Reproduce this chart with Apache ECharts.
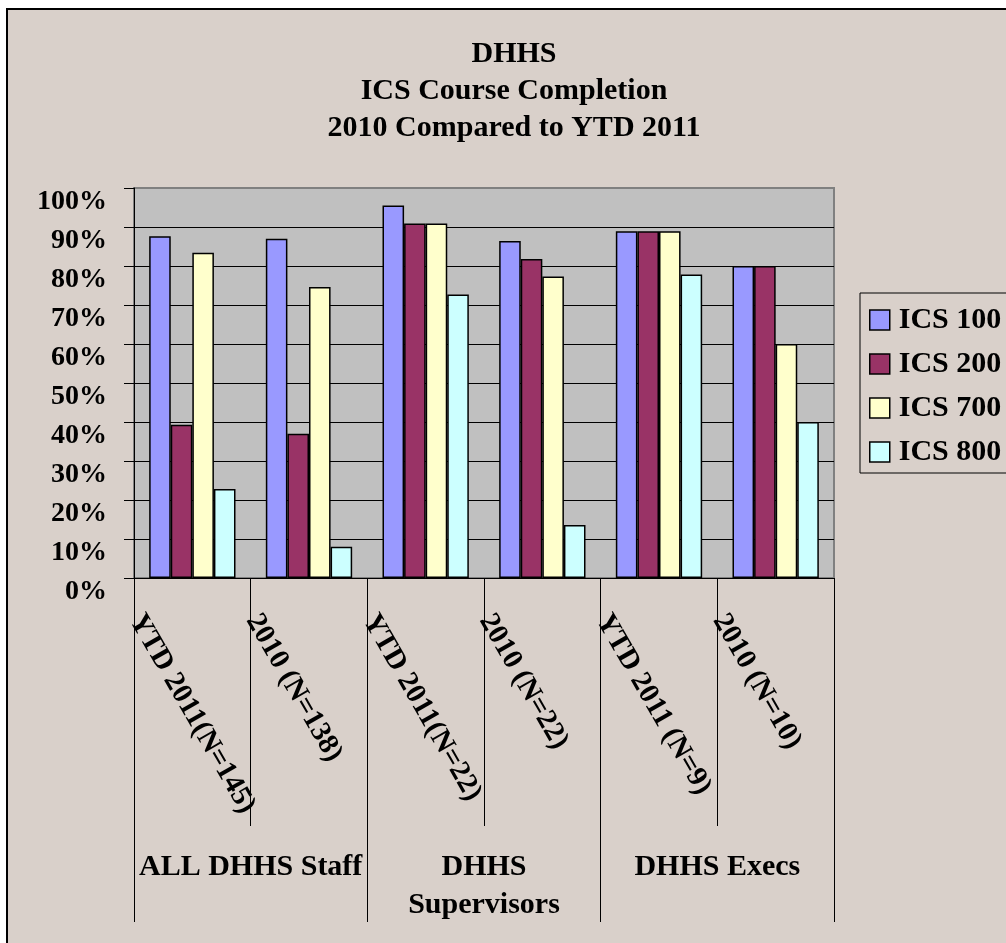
<!DOCTYPE html>
<html>
<head>
<meta charset="utf-8">
<script src="https://cdn.jsdelivr.net/npm/echarts@6/dist/echarts.min.js"></script>
<style>
html,body{margin:0;padding:0;background:#fff;}
#chart{width:1006px;height:943px;}
</style>
</head>
<body>
<div id="chart"></div>
<script>
var categories = ['YTD 2011(N=145)', '2010 (N=138)', 'YTD 2011(N=22)', '2010 (N=22)', 'YTD 2011 (N=9)', '2010 (N=10)'];
var groups = ['ALL DHHS Staff', 'DHHS\nSupervisors', 'DHHS Execs'];
var seriesNames = ['ICS 100', 'ICS 200', 'ICS 700', 'ICS 800'];
var ics100 = [87.6, 87.0, 95.5, 86.4, 88.9, 80];
var ics200 = [39.3, 37.0, 90.9, 81.8, 88.9, 80];
var ics700 = [83.4, 74.6, 90.9, 77.3, 88.9, 60];
var ics800 = [22.8, 8.0, 72.7, 13.6, 77.8, 40];
var yTicks = [0, 10, 20, 30, 40, 50, 60, 70, 80, 90, 100];

var FONT = '"Liberation Serif", "Times New Roman", serif';
var colors = ['#9999ff', '#993366', '#ffffcc', '#ccffff'];
var values = [ics100, ics200, ics700, ics800];

var chart = echarts.init(document.getElementById('chart'), null, {renderer: 'canvas'});

var splitColors = [];
for (var i = 0; i < yTicks.length; i++) splitColors.push(i === yTicks.length - 1 ? '#808080' : '#000000');

var option = {
  animation: false,
  backgroundColor: '#ffffff',
  graphic: [{
    type: 'rect', z: -100, silent: true,
    shape: {x: 7, y: 9, width: 1100, height: 1000},
    style: {fill: '#d9d0ca', stroke: '#000', lineWidth: 2}
  }],
  title: {
    text: 'DHHS\nICS Course Completion\n2010 Compared to YTD 2011',
    left: 514, top: 36, padding: 0,
    textAlign: 'center',
    textStyle: {fontFamily: FONT, fontWeight: 'bold', fontSize: 30, lineHeight: 37, color: '#000'}
  },
  legend: {
    orient: 'vertical',
    left: 860, top: 293,
    padding: [12, 10, 6, 9],
    icon: 'rect',
    itemWidth: 20, itemHeight: 20, itemGap: 14,
    borderColor: '#000', borderWidth: 1,
    backgroundColor: '#d9d0ca',
    data: seriesNames,
    itemStyle: {borderColor: '#000', borderWidth: 1.5},
    textStyle: {fontFamily: FONT, fontWeight: 'bold', fontSize: 30, color: '#000', padding: [0, 0, 0, 4]}
  },
  grid: {
    left: 134, top: 188, right: 172, bottom: 365,
    show: true, backgroundColor: '#c0c0c0', borderColor: '#808080', borderWidth: 2,
    outerBoundsMode: 'none', containLabel: false
  },
  xAxis: [{
    type: 'category',
    data: categories,
    position: 'bottom',
    axisLine: {show: true, lineStyle: {color: '#000', width: 1}},
    axisTick: {show: true, interval: 0, length: 248, alignWithLabel: false, lineStyle: {color: '#000', width: 1}},
    axisLabel: {
      interval: 0, rotate: -60, margin: 136,
      align: 'center', verticalAlign: 'middle',
      hideOverlap: false,
      formatter: function (v) { return '{a|' + v + '}'; },
      rich: {a: {width: 226, align: 'left', fontFamily: FONT, fontWeight: 'bold', fontSize: 29, color: '#000'}}
    },
    splitLine: {show: false}
  }, {
    type: 'category',
    data: groups,
    position: 'bottom',
    offset: 0,
    axisLine: {show: false},
    axisTick: {show: true, interval: 0, length: 344, alignWithLabel: false, lineStyle: {color: '#000', width: 1}},
    axisLabel: {
      interval: 0, margin: 270, verticalAlign: 'top',
      fontFamily: FONT, fontWeight: 'bold', fontSize: 30, lineHeight: 38, color: '#000'
    },
    splitLine: {show: false}
  }],
  yAxis: {
    type: 'value', min: 0, max: 100, interval: 10,
    axisLine: {show: true, lineStyle: {color: '#000', width: 1}},
    axisTick: {show: true, length: 10, lineStyle: {color: '#000', width: 1}},
    axisLabel: {
      formatter: '{value}%', margin: 27,
      verticalAlign: 'top', lineHeight: 28,
      fontFamily: FONT, fontWeight: 'bold', fontSize: 28, color: '#000'
    },
    splitLine: {show: true, lineStyle: {color: splitColors, width: 1}}
  },
  series: seriesNames.map(function (name, k) {
    return {
      name: name, type: 'bar', xAxisIndex: 0,
      data: values[k],
      barGap: '0%', barCategoryGap: '26%',
      itemStyle: {color: colors[k], borderColor: '#000', borderWidth: 1.5}
    };
  })
};
chart.setOption(option);
</script>
</body>
</html>
